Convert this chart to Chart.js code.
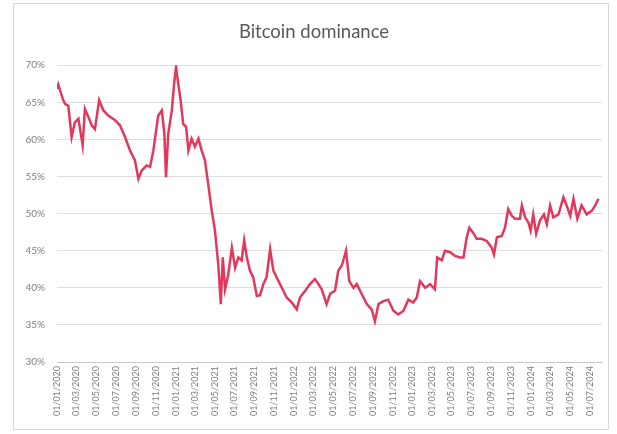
<!DOCTYPE html>
<html>
<head>
<meta charset="utf-8">
<title>Bitcoin dominance</title>
<script src="https://cdn.jsdelivr.net/npm/chart.js@4.4.1/dist/chart.umd.min.js"></script>
<style>
  html, body { margin: 0; padding: 0; background: #fff; }
  #wrap { position: relative; width: 617px; height: 434px; }
  #frame { position: absolute; left: 13px; top: 3px; width: 596px; height: 427px; border: 1px solid #d9d9d9; box-sizing: border-box; }
  #chartCanvas { position: absolute; left: 0; top: 0; }
</style>
</head>
<body>
<div id="wrap">
  <div id="frame"></div>
  <canvas id="chartCanvas" width="617" height="434"></canvas>
</div>
<script>
// dominance readings (% of total crypto market cap)
const dates = [
  "2020-01-01", "2020-01-05", "2020-01-20", "2020-01-26", "2020-02-05", "2020-02-15", "2020-02-25",
  "2020-03-07", "2020-03-20", "2020-03-27", "2020-04-07", "2020-04-17", "2020-04-27", "2020-05-10",
  "2020-05-23", "2020-06-07", "2020-06-28", "2020-07-13", "2020-07-29", "2020-08-13", "2020-08-28",
  "2020-09-08", "2020-09-18", "2020-10-03", "2020-10-14", "2020-10-24", "2020-11-08", "2020-11-19",
  "2020-11-27", "2020-12-02", "2020-12-09", "2020-12-20", "2020-12-27", "2021-01-02", "2021-01-07",
  "2021-01-16", "2021-01-24", "2021-02-02", "2021-02-09", "2021-02-19", "2021-03-01", "2021-03-12",
  "2021-03-22", "2021-04-01", "2021-04-11", "2021-04-22", "2021-05-02", "2021-05-12", "2021-05-20",
  "2021-05-26", "2021-06-02", "2021-06-12", "2021-06-23", "2021-07-03", "2021-07-13", "2021-07-23",
  "2021-07-31", "2021-08-08", "2021-08-18", "2021-08-28", "2021-09-08", "2021-09-18", "2021-09-28",
  "2021-10-08", "2021-10-19", "2021-10-29", "2021-11-08", "2021-11-24", "2021-12-09", "2021-12-25",
  "2022-01-09", "2022-01-19", "2022-02-04", "2022-02-19", "2022-03-06", "2022-03-17", "2022-03-27",
  "2022-04-11", "2022-04-22", "2022-05-07", "2022-05-17", "2022-05-28", "2022-06-10", "2022-06-20",
  "2022-07-03", "2022-07-13", "2022-07-28", "2022-08-13", "2022-08-28", "2022-09-07", "2022-09-18",
  "2022-10-03", "2022-10-18", "2022-11-03", "2022-11-18", "2022-12-04", "2022-12-19", "2023-01-03",
  "2023-01-14", "2023-01-24", "2023-02-09", "2023-02-24", "2023-03-11", "2023-03-18", "2023-04-01",
  "2023-04-11", "2023-04-27", "2023-05-12", "2023-05-27", "2023-06-07", "2023-06-17", "2023-06-25",
  "2023-07-07", "2023-07-18", "2023-08-02", "2023-08-18", "2023-09-02", "2023-09-09", "2023-09-18",
  "2023-10-03", "2023-10-13", "2023-10-23", "2023-11-03", "2023-11-13", "2023-11-28", "2023-12-04",
  "2023-12-14", "2023-12-24", "2023-12-31", "2024-01-08", "2024-01-17", "2024-01-29", "2024-02-10",
  "2024-02-19", "2024-02-29", "2024-03-10", "2024-03-26", "2024-04-10", "2024-04-20", "2024-05-01",
  "2024-05-11", "2024-05-23", "2024-06-05", "2024-06-21", "2024-07-07", "2024-07-17", "2024-07-27"
];

const dominance = [
  66.8, 67.4, 65.3, 64.8, 64.5, 60.3, 62.3,
  62.8, 59.2, 64.1, 63.0, 61.9, 61.4, 65.3,
  63.9, 63.2, 62.6, 61.9, 60.3, 58.5, 57.2,
  54.7, 55.8, 56.5, 56.3, 58.5, 63.2, 63.9,
  60.8, 54.9, 60.8, 63.9, 67.5, 69.8, 68.0,
  65.3, 62.1, 61.7, 58.5, 60.1, 59.0, 60.1,
  58.5, 57.2, 54.0, 50.4, 47.7, 43.2, 37.8,
  44.1, 39.8, 41.8, 45.4, 42.7, 44.1, 43.7,
  46.4, 44.1, 42.3, 41.4, 38.9, 39.0, 40.5,
  41.4, 45.2, 42.3, 41.4, 40.0, 38.7, 38.0,
  37.1, 38.7, 39.6, 40.5, 41.2, 40.5, 39.8,
  37.8, 39.2, 39.6, 42.3, 43.0, 45.0, 40.9,
  40.0, 40.5, 39.2, 37.8, 37.1, 35.5, 37.8,
  38.2, 38.4, 36.9, 36.4, 36.9, 38.4, 38.0,
  38.7, 40.9, 40.0, 40.5, 39.8, 44.1, 43.7,
  45.0, 44.8, 44.3, 44.1, 44.1, 46.8, 48.1,
  47.4, 46.6, 46.6, 46.3, 45.4, 44.5, 46.8,
  47.0, 48.1, 50.6, 49.7, 49.3, 49.3, 51.1,
  49.5, 48.8, 47.7, 49.9, 47.3, 49.1, 49.9,
  48.6, 51.1, 49.5, 49.9, 52.2, 51.1, 49.7,
  52.0, 49.3, 51.1, 49.9, 50.4, 51.1, 52.0
];

// x-axis labels, every two months
const tickLabels = [
  "01/01/2020", "01/03/2020", "01/05/2020", "01/07/2020", "01/09/2020", "01/11/2020",
  "01/01/2021", "01/03/2021", "01/05/2021", "01/07/2021", "01/09/2021", "01/11/2021",
  "01/01/2022", "01/03/2022", "01/05/2022", "01/07/2022", "01/09/2022", "01/11/2022",
  "01/01/2023", "01/03/2023", "01/05/2023", "01/07/2023", "01/09/2023", "01/11/2023",
  "01/01/2024", "01/03/2024", "01/05/2024", "01/07/2024"
];

const yTicks = [30, 35, 40, 45, 50, 55, 60, 65, 70];

const DAY0 = Date.UTC(2020, 0, 1);

// ISO date -> days since 01/01/2020
function dayOf(iso) {
  const [y, m, d] = iso.split("-").map(Number);
  return (Date.UTC(y, m - 1, d) - DAY0) / 86400000;
}

// dd/mm/yyyy label -> days since 01/01/2020
function dayOfLabel(label) {
  const [d, m, y] = label.split("/").map(Number);
  return (Date.UTC(y, m - 1, d) - DAY0) / 86400000;
}

const labelColor = "#7f7f7f";

const ctx = document.getElementById("chartCanvas").getContext("2d");

new Chart(ctx, {
  type: "line",
  data: {
    datasets: [{
      label: "Bitcoin dominance",
      data: dates.map((d, i) => ({ x: dayOf(d), y: dominance[i] })),
      borderColor: "#e3385b",
      borderWidth: 2.5,
      pointRadius: 0,
      tension: 0,
      fill: false
    }]
  },
  options: {
    responsive: false,
    animation: false,
    // left padding keeps the title centred over the plot
    layout: { padding: { left: 26, right: 15, top: 0, bottom: 0 } },
    plugins: {
      legend: { display: false },
      tooltip: { enabled: false },
      title: {
        display: true,
        text: "Bitcoin dominance",
        color: "#595959",
        font: { family: "Lato", size: 18.5, weight: "normal" },
        padding: { top: 21, bottom: 22 }
      }
    },
    scales: {
      x: {
        type: "linear",
        min: 0,
        max: 1680,
        afterBuildTicks: axis => {
          axis.ticks = tickLabels.map(l => ({ value: dayOfLabel(l) }));
        },
        afterFit: scale => { scale.height = 72; },
        ticks: {
          autoSkip: false,
          minRotation: 90,
          maxRotation: 90,
          padding: 4,
          font: { family: "Lato", size: 9 },
          color: labelColor,
          callback: (value, index) => tickLabels[index]
        },
        grid: { display: false, drawTicks: false },
        border: { display: true, color: "#c8c8c8", width: 1 }
      },
      y: {
        min: 30,
        max: 70,
        afterBuildTicks: axis => {
          axis.ticks = yTicks.map(v => ({ value: v }));
        },
        afterFit: scale => { scale.width = 31; },
        ticks: {
          padding: 12,
          font: { family: "Lato", size: 10 },
          color: labelColor,
          callback: value => value + "%"
        },
        grid: { color: "#dedede", drawTicks: false },
        border: { display: false }
      }
    }
  }
});
</script>
</body>
</html>
